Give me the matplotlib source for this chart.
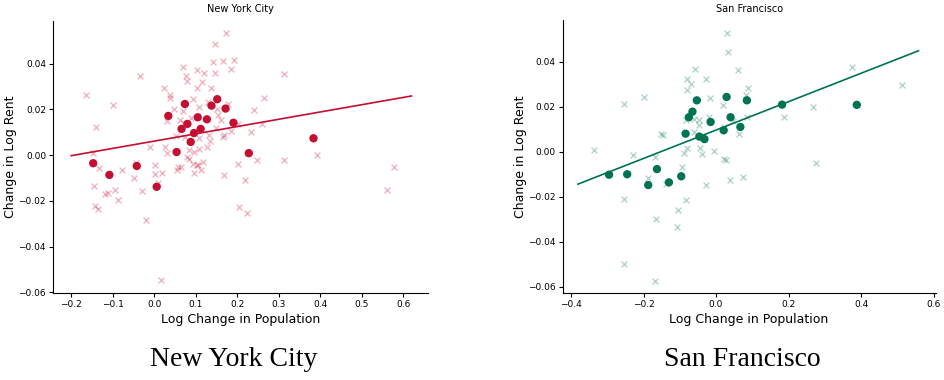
import matplotlib
matplotlib.use('Agg')
import matplotlib.pyplot as plt

# New York City: binned means (dots) and raw points (crosses)
nyc_dot_x = [-0.147, -0.108, -0.042, 0.006, 0.034, 0.054, 0.066, 0.074, 0.080, 0.088,
             0.096, 0.105, 0.112, 0.127, 0.138, 0.152, 0.172, 0.191, 0.228, 0.384]
nyc_dot_y = [-0.0035, -0.0086, -0.0047, -0.0138, 0.0172, 0.0014, 0.0115, 0.0224, 0.0137, 0.0058,
             0.0097, 0.0166, 0.0115, 0.0157, 0.0217, 0.0245, 0.0204, 0.0142, 0.0009, 0.0074]

nyc_x = [0.174, 0.146, -0.034, 0.069, 0.076, 0.080, 0.104, 0.119, 0.116, 0.142,
         0.146, 0.167, 0.193, 0.184, -0.165, -0.100, -0.141, 0.023, 0.039, 0.038,
         0.102, 0.138, 0.093, 0.070, 0.047, 0.108, 0.129, 0.151, 0.178, 0.240,
         0.032, 0.063, 0.072, 0.088, 0.153, 0.161, 0.202, 0.234, 0.052, 0.074,
         0.109, 0.132, 0.148, 0.167, 0.184, 0.127, 0.135, 0.109, 0.084, 0.080,
         0.097, 0.027, 0.031, -0.011, -0.148, 0.002, -0.044, -0.077, -0.134, 0.058,
         0.085, 0.093, 0.102, 0.117, 0.202, 0.247, -0.146, -0.119, -0.111, -0.095,
         -0.088, -0.143, -0.135, -0.049, -0.029, -0.020, 0.001, 0.019, 0.008, 0.017,
         0.064, 0.054, 0.106, 0.095, 0.114, 0.169, 0.219, 0.204, 0.224, 0.314,
         0.264, 0.261, 0.314, 0.392, 0.578, 0.560, 0.169]
nyc_y = [0.0535, 0.0487, 0.0348, 0.0384, 0.0346, 0.0324, 0.0374, 0.0361, 0.0321, 0.0406,
         0.0361, 0.0412, 0.0416, 0.0376, 0.0262, 0.0218, 0.0122, 0.0295, 0.0262, 0.0252,
         0.0294, 0.0295, 0.0247, 0.0193, 0.0201, 0.0210, 0.0234, 0.0201, 0.0224, 0.0197,
         0.0151, 0.0154, 0.0141, 0.0164, 0.0175, 0.0154, 0.0138, 0.0100, 0.0086, 0.0081,
         0.0074, 0.0089, 0.0121, 0.0080, 0.0105, 0.0035, 0.0062, 0.0026, 0.0024, -0.0006,
         0.0013, 0.0038, 0.0011, 0.0038, 0.0011, -0.0044, -0.0032, -0.0063, -0.0054, -0.0051,
         -0.0017, -0.0039, -0.0044, -0.0028, -0.0039, -0.0019, -0.0135, -0.0170, -0.0163, -0.0153,
         -0.0194, -0.0224, -0.0234, -0.0100, -0.0156, -0.0283, -0.0083, -0.0079, -0.0122, -0.0546,
         -0.0050, -0.0064, -0.0042, -0.0076, -0.0064, -0.0087, -0.0108, -0.0227, -0.0252, 0.0355,
         0.0250, 0.0138, -0.0021, 0.0001, -0.0052, -0.0153, 0.0089]
nyc_fit_x = [-0.2, 0.62]
nyc_fit_y = [-0.0002, 0.0259]

# San Francisco
sf_dot_x = [-0.295, -0.245, -0.187, -0.163, -0.130, -0.096, -0.084, -0.075, -0.065, -0.053,
            -0.046, -0.032, -0.015, 0.021, 0.029, 0.040, 0.067, 0.085, 0.182, 0.388]
sf_dot_y = [-0.0102, -0.0100, -0.0148, -0.0077, -0.0136, -0.0109, 0.0080, 0.0153, 0.0178, 0.0228,
            0.0067, 0.0056, 0.0132, 0.0095, 0.0243, 0.0153, 0.0110, 0.0228, 0.0209, 0.0208]

sf_x = [0.029, 0.033, 0.061, -0.057, -0.081, -0.070, -0.079, -0.029, -0.200, -0.253,
        -0.017, 0.018, 0.088, 0.082, -0.084, -0.062, -0.047, -0.047, -0.020, -0.060,
        0.047, 0.021, 0.085, -0.151, -0.145, 0.062, -0.337, -0.230, -0.169, -0.088,
        -0.079, -0.044, -0.039, -0.007, -0.095, 0.023, 0.028, -0.189, -0.139, -0.029,
        0.038, 0.074, -0.254, -0.083, -0.106, -0.166, -0.107, -0.254, -0.169, 0.188,
        0.268, 0.375, 0.513, 0.276]
sf_y = [0.0529, 0.0444, 0.0362, 0.0369, 0.0322, 0.0301, 0.0276, 0.0323, 0.0244, 0.0211,
        0.0239, 0.0209, 0.0282, 0.0253, 0.0141, 0.0145, 0.0142, 0.0117, 0.0156, 0.0089,
        0.0135, 0.0108, 0.0153, 0.0080, 0.0073, 0.0079, 0.0006, -0.0013, -0.0022, -0.0004,
        0.0016, 0.0015, -0.0009, 0.0002, -0.0067, -0.0034, -0.0037, -0.0117, -0.0145, -0.0148,
        -0.0124, -0.0112, -0.0212, -0.0216, -0.0259, -0.0299, -0.0335, -0.0500, -0.0572, 0.0154,
        0.0200, 0.0376, 0.0298, -0.0050]
sf_fit_x = [-0.381, 0.558]
sf_fit_y = [-0.0144, 0.0448]

red = '#C50F32'
green = '#007352'

fig = plt.figure(figsize=(9.44, 3.8), dpi=100)
ax1 = fig.add_axes([0.0561, 0.228, 0.3973, 0.718])
ax2 = fig.add_axes([0.596, 0.229, 0.395, 0.718])

panels = [
    (ax1, 'New York City', nyc_x, nyc_y, nyc_dot_x, nyc_dot_y, nyc_fit_x, nyc_fit_y, red,
     (-0.244, 0.660), (-0.0604, 0.0589)),
    (ax2, 'San Francisco', sf_x, sf_y, sf_dot_x, sf_dot_y, sf_fit_x, sf_fit_y, green,
     (-0.423, 0.605), (-0.0627, 0.0584)),
]

for ax, title, x, y, dx, dy, fx, fy, col, xl, yl in panels:
    ax.scatter(x, y, marker='x', s=18, color=col, alpha=0.3, linewidths=1.0)
    ax.scatter(dx, dy, marker='o', s=36, color=col, edgecolors='none', zorder=3)
    ax.plot(fx, fy, color=col, lw=1.2)
    ax.set_xlim(*xl)
    ax.set_ylim(*yl)
    ax.set_title(title, fontsize=7, pad=6)
    ax.set_xlabel('Log Change in Population', fontsize=9, labelpad=3)
    ax.set_ylabel('Change in Log Rent', fontsize=9, labelpad=1)
    ax.tick_params(labelsize=6.5, length=3, width=0.8, pad=2)
    for s in ['top', 'right']:
        ax.spines[s].set_visible(False)
    for s in ['left', 'bottom']:
        ax.spines[s].set_linewidth(0.8)

ax1.set_yticks([-0.06, -0.04, -0.02, 0.0, 0.02, 0.04])
ax1.set_xticks([-0.2, -0.1, 0.0, 0.1, 0.2, 0.3, 0.4, 0.5, 0.6])
ax2.set_yticks([-0.06, -0.04, -0.02, 0.0, 0.02, 0.04])
ax2.set_xticks([-0.4, -0.2, 0.0, 0.2, 0.4, 0.6])

# captions under each panel
fig.text(0.248, 0.055, 'New York City', ha='center', va='center',
         family='Liberation Serif', fontsize=20)
fig.text(0.786, 0.055, 'San Francisco', ha='center', va='center',
         family='Liberation Serif', fontsize=20)

fig.savefig('out.png', dpi=100)
